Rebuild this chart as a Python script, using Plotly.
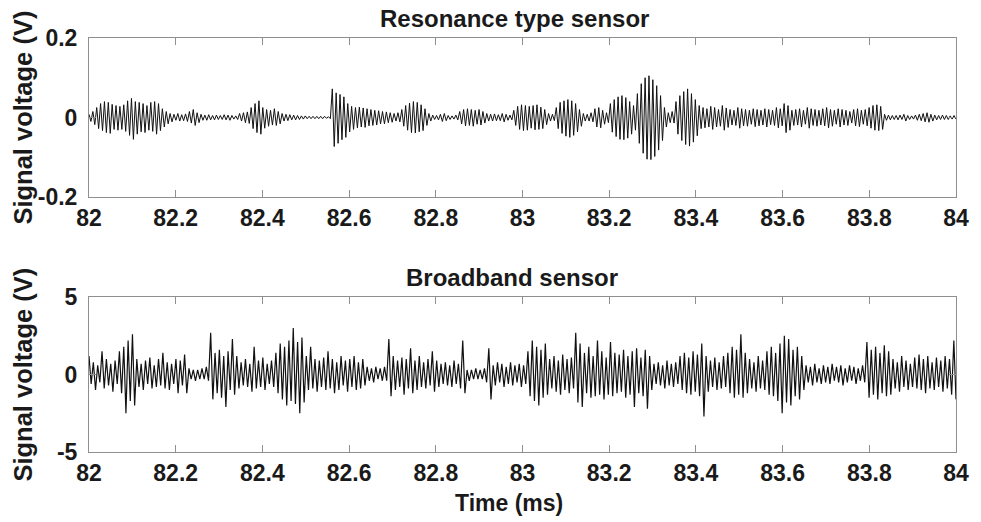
import numpy as np
import plotly.graph_objects as go

# ---------------- data ----------------
# Resonance type sensor: successive signal extrema, in millivolts
res_mV = [
    8, -10, 15, -18, 25, -28,
    35, -33, 40, -38, 38, -40,
    33, -30, 30, -32,
    28, -30, 32, -35,
    42, -45, 48, -55,
    40, -42, 38, -36, 35, -38, 30, -32,
    38, -35, 40, -42, 35, -33,
    22, -24, 15, -16, 10, -11,
    8, -7, 10, -9, 7, -8, 9, -10,
    15, -14, 20, -20, 12, -13,
    8, -7, 6, -7, 7, -6, 5, -6, 6, -5, 5, -5, 7, -6, 6, -7, 5, -4, 4, -5,
    10, -9, 12, -13, 14, -15,
    25, -28, 35, -38, 42, -42,
    25, -27, 20, -22, 18, -19, 22, -20, 15, -16,
    10, -9, 8, -8, 7, -6, 6, -6, 5, -5, 4, -4, 4, -3, 3, -3, 3, -3, 3, -3, 3, -3,
    3, -2, 2, -3,
    72, -73, 62, -65, 58, -56, 52, -50,
    35, -36, 28, -30, 25, -26, 26, -24, 24, -25, 22, -21,
    20, -20, 18, -19, 17, -16, 15, -16, 14, -13, 12, -12,
    10, -9, 12, -11,
    20, -22, 30, -32, 36, -38, 40, -39, 38, -36, 32, -33, 22, -20,
    10, -9, 6, -5, 5, -6, 8, -10, 10, -8, 5, -5, 4, -4,
    6, -6,
    15, -16, 20, -21, 22, -20, 20, -22, 18, -17, 20, -19, 15, -14,
    10, -9, 8, -9, 9, -8, 7, -8, 10, -11, 8, -7, 6, -6,
    18, -20, 28, -30, 32, -33, 30, -32, 28, -27, 30, -31, 32, -30, 26, -28, 20, -18,
    10, -9, 8, -8,
    25, -28, 38, -40, 42, -47, 45, -50, 42, -45, 35, -36, 20, -22,
    10, -9, 8, -9, 12, -11,
    22, -24, 25, -26, 18, -17,
    12, -13,
    35, -37, 45, -48, 52, -55, 55, -56, 50, -52, 40, -42,
    30, -32,
    60, -65, 85, -90, 100, -105, 105, -106, 95, -98, 80, -82, 55, -58,
    25, -24, 12, -13, 15, -14,
    40, -42, 55, -58, 65, -68, 72, -72, 60, -62, 45, -46,
    30, -28, 25, -26, 22, -24, 28, -30, 25, -24, 20, -22, 30, -32, 24, -25,
    20, -19, 18, -20, 25, -27, 22, -21, 20, -22, 18, -17, 22, -23,
    20, -21, 18, -19, 22, -24, 20, -18, 18, -20, 25, -26, 22, -21,
    35, -38, 30, -32,
    18, -20, 20, -19, 22, -24, 18, -17, 25, -27, 22, -20, 20, -22, 18, -19,
    22, -21, 25, -26, 20, -22, 18, -17, 22, -24, 20, -19, 18, -20, 15, -14,
    20, -21, 22, -23, 18, -17, 20, -21, 25, -27,
    30, -32, 32, -33, 28, -30,
    8, -7, 6, -6, 5, -5, 5, -6, 6, -5, 8, -9, 5, -5, 4, -4, 6, -7, 8, -8,
    10, -11, 12, -12, 8, -9, 6, -6, 5, -5, 6, -5, 5, -5, 4, -4, 5, -4,
]

# Broadband sensor: successive signal extrema, in decivolts
bb_dV = [
    12, -6, 8, -10, 6, -5, 15, -9, 10, -7, 7, -11, 9, -6, 15, -12, 18, -25, 22, -17,
    26, -20, 10, -8, 7, -10, 9, -6, 11, -9, 6, -8, 10, -7, 14, -9, 8, -10, 7, -6,
    10, -12, 9, -7, 13, -12, 4, -3, 3, -4, 3, -3, 4, -3, 5, -4, 27, -16, 14, -12,
    16, -15, 12, -21, 15, -10, 23, -13, 12, -9, 8, -7, 10, -8, 7, -11, 18, -9, 9, -8,
    11, -10, 7, -6, 9, -8, 14, -12, 20, -16, 18, -20, 22, -17, 30, -19, 21, -25, 24, -18,
    12, -10, 18, -9, 10, -11, 9, -8, 11, -10, 15, -9, 10, -12, 8, -10, 12, -7, 9, -11,
    10, -8, 12, -10, 8, -9, 10, -7, 5, -4, 4, -5, 5, -3, 4, -4, 5, -4, 23, -14,
    12, -10, 9, -8, 11, -13, 10, -9, 17, -12, 9, -10, 12, -8, 8, -9, 10, -7, 15, -11,
    9, -8, 7, -6, 8, -7, 6, -8, 9, -6, 7, -9, 22, -12, 3, -4, 3, -3, 4, -3,
    3, -3, 4, -5, 17, -16, 6, -7, 8, -5, 7, -8, 5, -6, 8, -7, 6, -5, 7, -8,
    6, -6, 15, -14, 22, -17, 18, -20, 16, -15, 20, -13, 10, -9, 12, -11, 9, -13, 13, -10,
    10, -12, 11, -9, 27, -18, 20, -21, 14, -12, 18, -15, 12, -14, 22, -13, 15, -16, 11, -13,
    21, -14, 14, -12, 13, -11, 16, -15, 12, -13, 15, -21, 17, -12, 11, -14, 16, -22, 12, -10,
    7, -6, 8, -7, 6, -9, 9, -7, 7, -8, 8, -6, 12, -10, 14, -12, 11, -13, 15, -11,
    13, -14, 20, -27, 12, -11, 9, -8, 11, -10, 8, -9, 12, -8, 14, -12, 18, -15, 16, -13,
    26, -15, 14, -12, 10, -9, 8, -11, 12, -9, 9, -10, 15, -13, 18, -14, 14, -17, 20, -25,
    25, -18, 23, -20, 16, -14, 18, -16, 12, -10, 6, -5, 5, -7, 7, -5, 4, -6, 6, -5,
    5, -6, 7, -4, 5, -5, 6, -7, 4, -5, 6, -4, 5, -6, 4, -4, 6, -5, 21, -15,
    16, -13, 18, -16, 14, -12, 19, -14, 15, -13, 10, -9, 8, -11, 12, -8, 9, -10, 7, -8,
    11, -9, 13, -10, 10, -12, 12, -9, 8, -10, 11, -8, 9, -11, 12, -9, 10, -13, 22, -16,
]

t_start, t_end = 82.0, 84.0
x_tickvals = [82, 82.2, 82.4, 82.6, 82.8, 83, 83.2, 83.4, 83.6, 83.8, 84]
x_ticktext = ["82", "82.2", "82.4", "82.6", "82.8", "83", "83.2", "83.4", "83.6", "83.8", "84"]
y1_tickvals = [-0.2, 0, 0.2]
y1_ticktext = ["-0.2", "0", "0.2"]
y2_tickvals = [-5, 0, 5]
y2_ticktext = ["-5", "0", "5"]

title_top = "Resonance type sensor"
title_bottom = "Broadband sensor"
y_label = "Signal voltage (V)"
x_label = "Time (ms)"

# ---------------- figure ----------------
t_res = np.linspace(t_start, t_end, len(res_mV))
t_bb = np.linspace(t_start, t_end, len(bb_dV))
y_res = np.array(res_mV, dtype=float) / 1000.0
y_bb = np.array(bb_dV, dtype=float) / 10.0

FONT = "Liberation Sans, Arial, sans-serif"
TXT = "#1a1a1a"
AX = "#8f8f8f"

fig = go.Figure()
fig.add_trace(go.Scatter(x=t_res, y=y_res, mode="lines",
                         line=dict(color="#111111", width=1),
                         xaxis="x", yaxis="y", hoverinfo="skip", showlegend=False))
fig.add_trace(go.Scatter(x=t_bb, y=y_bb, mode="lines",
                         line=dict(color="#111111", width=1.2),
                         xaxis="x2", yaxis="y2", hoverinfo="skip", showlegend=False))

tickfont = dict(family=FONT, size=23, color=TXT, weight="bold")
common = dict(showline=True, linecolor=AX, linewidth=1, mirror="ticks",
              ticks="inside", ticklen=7, tickcolor=AX, tickwidth=1,
              showgrid=False, zeroline=False, tickfont=tickfont)

fig.update_layout(
    width=981, height=522,
    margin=dict(l=89, r=17, t=38, b=70),
    paper_bgcolor="white", plot_bgcolor="white",
    xaxis=dict(domain=[0, 1], anchor="y", range=[t_start, t_end],
               tickvals=x_tickvals, ticktext=x_ticktext, ticklabelstandoff=0, **common),
    yaxis=dict(domain=[0.616, 1], anchor="x", range=[-0.2, 0.2],
               tickvals=y1_tickvals, ticktext=y1_ticktext, ticklabelstandoff=6, **common),
    xaxis2=dict(domain=[0, 1], anchor="y2", range=[t_start, t_end],
                tickvals=x_tickvals, ticktext=x_ticktext, ticklabelstandoff=0, **common),
    yaxis2=dict(domain=[0, 0.374], anchor="x2", range=[-5, 5],
                tickvals=y2_tickvals, ticktext=y2_ticktext, ticklabelstandoff=6, **common),
)

def ann(text, x, y, size, angle=0):
    fig.add_annotation(text="<b>%s</b>" % text, x=x, y=y, xref="paper", yref="paper",
                       xanchor="center", yanchor="middle", showarrow=False,
                       textangle=angle, font=dict(family=FONT, size=size, color=TXT))

ann(title_top, 0.4903, 1.0459, 24)
ann(title_bottom, 0.488, 0.4227, 24)
ann(x_label, 0.4846, -0.1232, 23)
ann(y_label, -0.0766, 0.8068, 25.5, angle=-90)
ann(y_label, -0.0766, 0.186, 25.5, angle=-90)

fig.write_html("out.html")
